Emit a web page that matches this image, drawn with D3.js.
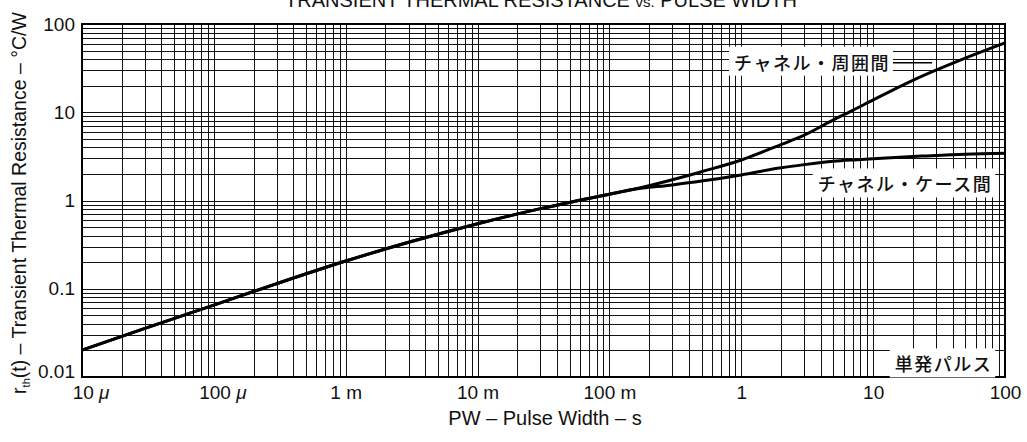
<!DOCTYPE html>
<html>
<head>
<meta charset="utf-8">
<script src="https://cdn.jsdelivr.net/npm/d3@7"></script>
<style>
  body { margin: 0; background: #fff; }
  svg { display: block; }
  text { font-family: "Liberation Sans", Arial, sans-serif; fill: #111; }
  .jp { font-family: "Noto Sans CJK JP", sans-serif; }
</style>
</head>
<body>
<svg width="1027" height="442"></svg>
<script>
// pulse width (s) / resistance (C/W)
var tCommon = [1e-5, 3e-5, 1e-4, 3e-4, 1e-3, 3e-3, 1e-2, 3e-2, 0.1, 0.15];
var rCommon = [0.0202, 0.0355, 0.0653, 0.1143, 0.206, 0.336, 0.546, 0.809, 1.18, 1.33];

// channel-ambient branch
var tAmbient = [0.3, 0.5, 1, 2, 3, 5, 7, 10, 20, 50, 100];
var rAmbient = [1.72, 2.12, 2.88, 4.3, 5.5, 8.2, 10.5, 13.8, 23, 41, 61];

// channel-case branch
var tCase = [0.3, 0.5, 1, 2, 3, 5, 7.5, 10, 24, 50, 100];
var rCase = [1.5, 1.66, 1.95, 2.35, 2.55, 2.78, 2.9, 2.98, 3.19, 3.35, 3.43];

var xTicks = [1e-5, 1e-4, 1e-3, 1e-2, 1e-1, 1, 10, 100];
var xTickLabels = ["10 \u03bc", "100 \u03bc", "1 m", "10 m", "100 m", "1", "10", "100"];
var yTicks = [0.01, 0.1, 1, 10, 100];
var yTickLabels = ["0.01", "0.1", "1", "10", "100"];

var svg = d3.select("svg"),
    pLeft = 82, pRight = 1005, pTop = 24, pBottom = 377;

var x = d3.scaleLog().domain([1e-5, 100]).range([pLeft, pRight]);
var y = d3.scaleLog().domain([0.01, 100]).range([pBottom, pTop]);

// title (cut off at the top edge like the scan)
var title = svg.append("text")
    .attr("x", 541).attr("y", 7)
    .attr("text-anchor", "middle")
    .style("font-size", "20px");
title.append("tspan").text("TRANSIENT THERMAL RESISTANCE ");
title.append("tspan").style("font-size", "15px").text("vs.");
title.append("tspan").text(" PULSE WIDTH");

// log grid
var gridX = [], gridY = [];
for (var e = -5; e <= 1; e++)
    for (var i = 1; i < 10; i++) gridX.push(i * Math.pow(10, e));
for (var e2 = -2; e2 <= 1; e2++)
    for (var j = 1; j < 10; j++) gridY.push(j * Math.pow(10, e2));

var grid = svg.append("g")
    .attr("stroke", "#111")
    .attr("stroke-width", 1)
    .attr("shape-rendering", "crispEdges");

grid.selectAll(".gx").data(gridX).enter().append("line")
    .attr("x1", function(d) { return Math.round(x(d)) + 0.5; })
    .attr("x2", function(d) { return Math.round(x(d)) + 0.5; })
    .attr("y1", pTop).attr("y2", pBottom);

grid.selectAll(".gy").data(gridY).enter().append("line")
    .attr("y1", function(d) { return Math.round(y(d)) + 0.5; })
    .attr("y2", function(d) { return Math.round(y(d)) + 0.5; })
    .attr("x1", pLeft).attr("x2", pRight);

// curves: both branches share the common part
var line = d3.line()
    .x(function(d) { return x(d[0]); })
    .y(function(d) { return y(d[1]); })
    .curve(d3.curveMonotoneX);

function pairs(ts, rs) { return ts.map(function(t, k) { return [t, rs[k]]; }); }

var curves = svg.append("g")
    .attr("fill", "none")
    .attr("stroke", "#000")
    .attr("stroke-width", 3)
    .attr("stroke-linejoin", "round");

curves.append("path").attr("d", line(pairs(tCommon.concat(tAmbient), rCommon.concat(rAmbient))));
curves.append("path").attr("d", line(pairs(tCommon.concat(tCase), rCommon.concat(rCase))));

// frame
svg.append("rect")
    .attr("x", pLeft).attr("y", pTop)
    .attr("width", pRight - pLeft).attr("height", pBottom - pTop)
    .attr("fill", "none").attr("stroke", "#000").attr("stroke-width", 2);

// labels with white boxes
function label(text, tx, ry) {
    var g = svg.append("g");
    var box = g.append("rect").attr("fill", "#fff");
    var t = g.append("text").attr("class", "jp")
        .attr("x", x(tx)).attr("y", y(ry))
        .attr("text-anchor", "end")
        .attr("dy", "0.36em")
        .style("font-size", "18px")
        .style("font-weight", 500)
        .style("letter-spacing", "1.5px")
        .text(text);
    var b = t.node().getBBox();
    box.attr("x", b.x - 5).attr("y", b.y - 2)
        .attr("width", b.width + 8).attr("height", b.height + 3);
    return b;
}

var bAmb = label("チャネル・周囲間", 13.4, 36);
svg.append("line")
    .attr("x1", bAmb.x + bAmb.width + 3).attr("x2", x(28))
    .attr("y1", y(36) - 0.5).attr("y2", y(36) - 0.5)
    .attr("stroke", "#000").attr("stroke-width", 1.5);
label("チャネル・ケース間", 80, 1.5);
label("単発パルス", 80, 0.0137);

// axes
var xAxis = svg.append("g")
    .attr("transform", "translate(0," + (pBottom + 5) + ")")
    .call(d3.axisBottom(x).tickValues(xTicks).tickSize(0)
        .tickFormat(function(d, k) { return xTickLabels[k]; }));
xAxis.select(".domain").remove();
xAxis.selectAll("text")
    .style("font-family", "'Liberation Sans', Arial, sans-serif")
    .style("font-size", "19px").attr("fill", "#111")
    .each(function() {
        var s = d3.select(this), txt = s.text();
        if (txt.indexOf("\u03bc") > -1) {
            s.text(txt.replace(" \u03bc", "")).attr("dx", "0.45em");
            s.append("tspan").style("font-style", "italic").text(" \u03bc");
        }
    });

var yAxis = svg.append("g")
    .attr("transform", "translate(" + (pLeft - 4) + ",0)")
    .call(d3.axisLeft(y).tickValues(yTicks).tickSize(0)
        .tickFormat(function(d, k) { return yTickLabels[k]; }));
yAxis.select(".domain").remove();
yAxis.selectAll("text")
    .style("font-family", "'Liberation Sans', Arial, sans-serif")
    .style("font-size", "19px").attr("fill", "#111")
    .attr("dy", function(d) { return d === 0.01 ? "0.0em" : "0.32em"; });

// axis titles
svg.append("text")
    .attr("x", 545).attr("y", 425)
    .attr("text-anchor", "middle")
    .style("font-size", "20px")
    .text("PW \u2013 Pulse Width \u2013 s");

var yt = svg.append("text")
    .attr("transform", "translate(26,203) rotate(-90)")
    .attr("text-anchor", "middle")
    .style("font-size", "19.5px");
yt.append("tspan").text("r");
yt.append("tspan").attr("dy", 4).style("font-size", "11px").text("th");
yt.append("tspan").attr("dy", -4).text("(t) \u2013 Transient Thermal Resistance \u2013 \u00b0C/W");
</script>
</body>
</html>
